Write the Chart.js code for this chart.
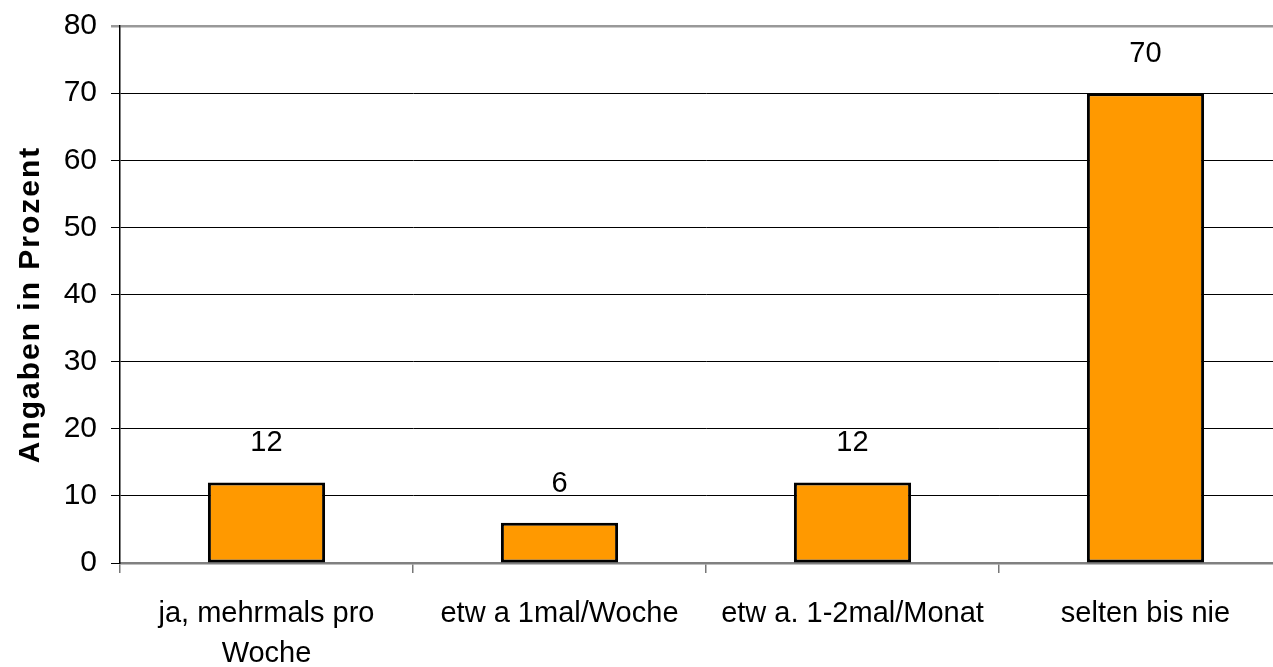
<!DOCTYPE html>
<html>
<head>
<meta charset="utf-8">
<script src="https://cdn.jsdelivr.net/npm/chart.js@4/dist/chart.umd.min.js"></script>
<style>
  html, body { margin: 0; padding: 0; background: #fff; overflow: hidden; }
  #wrap { width: 1310px; height: 667px; }
</style>
</head>
<body>
<div id="wrap"><canvas id="c" width="1310" height="667"></canvas></div>
<script>
// Survey categories and their shares (percent)
const categories = [["ja, mehrmals pro", "Woche"], "etw a 1mal/Woche", "etw a. 1-2mal/Monat", "selten bis nie"];
const values = [12, 6, 12, 70];
const yTitle = "Angaben in Prozent";

const FONT = '"Liberation Sans", Arial, sans-serif';

// Writes each bar's value centred above it
const valueLabels = {
  id: 'valueLabels',
  afterDatasetsDraw(chart) {
    const ctx = chart.ctx;
    const meta = chart.getDatasetMeta(0);
    ctx.save();
    ctx.font = '29px ' + FONT;
    ctx.fillStyle = '#000';
    ctx.textAlign = 'center';
    ctx.textBaseline = 'middle';
    meta.data.forEach((bar, i) => {
      ctx.fillText(String(values[i]), bar.x, bar.y - 39);
    });
    ctx.restore();
  }
};

// Vertical axis title, letter-spaced bold text centred on the plot height
const axisTitle = {
  id: 'axisTitle',
  afterDraw(chart) {
    const ctx = chart.ctx;
    const area = chart.chartArea;
    ctx.save();
    ctx.translate(31, (area.top + area.bottom) / 2 + 10);
    ctx.rotate(-Math.PI / 2);
    ctx.font = 'bold 30px ' + FONT;
    ctx.letterSpacing = '2px';
    ctx.fillStyle = '#000';
    ctx.textAlign = 'center';
    ctx.textBaseline = 'middle';
    ctx.fillText(yTitle, 0, 0);
    ctx.restore();
  }
};

new Chart(document.getElementById('c'), {
  type: 'bar',
  data: {
    labels: categories,
    datasets: [{
      data: values,
      backgroundColor: '#FF9900',
      borderColor: '#000',
      borderWidth: 3,
      borderSkipped: false,
      categoryPercentage: 0.4,
      barPercentage: 1.0
    }]
  },
  options: {
    responsive: false,
    animation: false,
    layout: { padding: { top: 26, right: 18, left: 0, bottom: 0 } },
    plugins: { legend: { display: false }, tooltip: { enabled: false } },
    scales: {
      x: {
        offset: true,
        grid: {
          offset: true,
          drawOnChartArea: false,
          drawTicks: true,
          tickLength: 10,
          color: '#777',
          lineWidth: 1.5
        },
        border: { color: '#808080', width: 2.5 },
        ticks: {
          color: '#000',
          font: { family: FONT, size: 29, lineHeight: 1.38 },
          padding: 21,
          maxRotation: 0,
          autoSkip: false
        },
        afterFit(scale) {
          scale.height = 104;
          scale.paddingLeft = 0;
          scale.paddingRight = 0;
        }
      },
      y: {
        min: 0,
        max: 80,
        ticks: {
          stepSize: 10,
          color: '#000',
          font: { family: FONT, size: 30 },
          padding: 14
        },
        grid: {
          tickLength: 9,
          color: (c) => (c.tick && c.tick.value === 80) ? '#999' : '#000',
          lineWidth: (c) => (c.tick && c.tick.value === 80) ? 2.5 : 1
        },
        border: { color: '#000', width: 1.5 },
        afterFit(scale) {
          scale.width = 120;
          scale.paddingTop = 0;
          scale.paddingBottom = 0;
        }
      }
    }
  },
  plugins: [valueLabels, axisTitle]
});
</script>
</body>
</html>
